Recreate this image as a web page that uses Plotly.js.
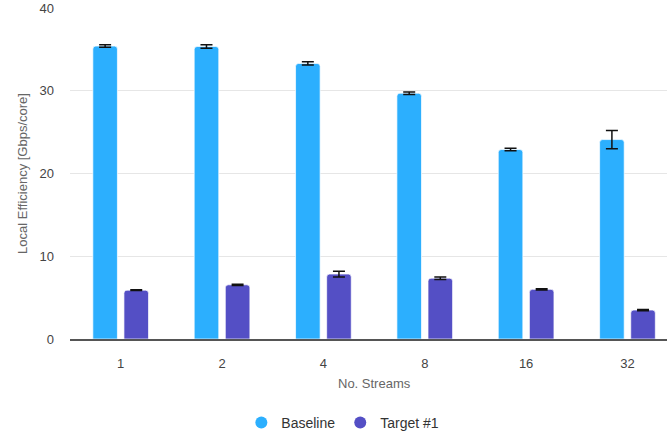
<!DOCTYPE html>
<html>
<head>
<meta charset="utf-8">
<script src="https://cdn.plot.ly/plotly-3.0.1.min.js"></script>
<style>
  html, body { margin: 0; padding: 0; background: #fff; overflow: hidden; }
  #chart { width: 667px; height: 437px; }
</style>
</head>
<body>
<div id="chart"></div>
<script>
// Number of parallel streams
const streams = ['1', '2', '4', '8', '16', '32'];

// Local efficiency in Gbps/core, with error margins
const baseline = [35.4, 35.35, 33.3, 29.7, 22.9, 24.1];
const baselineErr = [0.15, 0.2, 0.2, 0.15, 0.15, 1.1];
const target = [5.9, 6.55, 7.85, 7.35, 6.0, 3.5];
const targetErr = [0.05, 0.08, 0.35, 0.15, 0.08, 0.08];

const seriesNames = ['Baseline', 'Target #1'];
const colors = ['#2caffe', '#544fc5'];

const barLine = { color: 'rgba(255,255,255,0.7)', width: 1 };
const errStyle = { type: 'data', visible: true, color: '#111', thickness: 1.5, width: 6 };

const traces = [
  {
    type: 'bar', x: streams, y: baseline, name: seriesNames[0],
    marker: { color: colors[0], line: barLine },
    error_y: Object.assign({ array: baselineErr }, errStyle),
    showlegend: false, hoverinfo: 'x+y'
  },
  {
    type: 'bar', x: streams, y: target, name: seriesNames[1],
    marker: { color: colors[1], line: barLine },
    error_y: Object.assign({ array: targetErr }, errStyle),
    showlegend: false, hoverinfo: 'x+y'
  },
  // legend entries with round symbols
  {
    type: 'scatter', mode: 'markers', x: [null], y: [null], name: seriesNames[0],
    marker: { color: colors[0], size: 13, symbol: 'circle' }
  },
  {
    type: 'scatter', mode: 'markers', x: [null], y: [null], name: seriesNames[1],
    marker: { color: colors[1], size: 13, symbol: 'circle' }
  }
];

const layout = {
  width: 667,
  height: 437,
  margin: { l: 70, r: 0, t: 8, b: 98 },
  paper_bgcolor: '#fff',
  plot_bgcolor: '#fff',
  font: { family: 'Liberation Sans, Arial, sans-serif', color: '#444' },
  barmode: 'group',
  bargap: 0.386,
  bargroupgap: 0.21,
  barcornerradius: 3,
  xaxis: {
    type: 'category',
    categoryorder: 'array',
    categoryarray: streams,
    range: [-0.5, 5.39],
    showgrid: false,
    showline: true,
    linecolor: '#555',
    linewidth: 1.5,
    ticks: '',
    ticklabelstandoff: 12,
    tickfont: { size: 13, color: '#444' },
    zeroline: false,
    fixedrange: true
  },
  yaxis: {
    range: [0, 40],
    tickvals: [0, 10, 20, 30, 40],
    showgrid: true,
    gridcolor: '#e6e6e6',
    gridwidth: 1,
    zeroline: false,
    showline: false,
    ticks: '',
    ticklabelstandoff: 15,
    tickfont: { size: 13, color: '#444' },
    title: { text: 'Local Efficiency [Gbps/core]', font: { size: 13, color: '#666' }, standoff: 8 },
    fixedrange: true
  },
  annotations: [
    {
      text: 'No. Streams', xref: 'x', yref: 'paper', x: 2.5, y: 0,
      yshift: -44, showarrow: false, xanchor: 'center', yanchor: 'middle',
      font: { size: 13, color: '#666' }
    }
  ],
  legend: {
    orientation: 'h',
    xref: 'container', yref: 'container',
    x: 0.514, xanchor: 'center',
    y: 0.032, yanchor: 'middle',
    font: { size: 14, color: '#333' },
    itemsizing: 'constant',
    itemwidth: 30,
    tracegroupgap: 0
  },
  showlegend: true
};

Plotly.newPlot('chart', traces, layout, { displayModeBar: false, staticPlot: true });
</script>
</body>
</html>
